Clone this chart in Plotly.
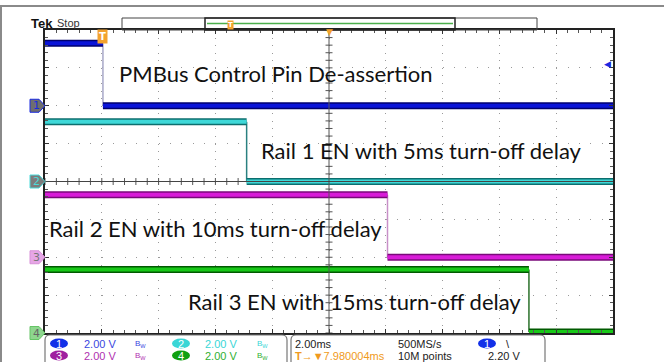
import numpy as np
import plotly.graph_objects as go

# scope settings
channels = ["1", "2", "3", "4"]
volts_per_div = [2.0, 2.0, 2.0, 2.0]
offset_div = [2, 0, -2, -4]          # ground marker position of each channel
high_v = [3.3, 3.15, 3.3, 3.35]      # logic high level
low_v = [0.0, 0.0, 0.0, 0.05]
fall_ms = [2.04, 7.1, 12.06, 17.04]  # time of falling edge (trigger + delay)
trig_level_v = 2.2

labels = [
    "PMBus Control Pin De-assertion",
    "Rail 1 EN with 5ms turn-off delay",
    "Rail 2 EN with 10ms turn-off delay",
    "Rail 3 EN with 15ms turn-off delay",
]
label_x_ms = [2.55, 7.55, 0.08, 4.95]
label_y_div = [2.84, 0.83, -1.24, -3.18]

colors = ["#0a14d8", "#3ed8d8", "#d81cd8", "#18c818"]
dark_colors = ["#00006e", "#0c6e6e", "#7a0a7a", "#005a00"]
edge_colors = ["#a8a8c8", "#2a8080", "#c890c8", "#2a702a"]

W, H = 664, 362
L, R, T, B = 45, 613, 30, 333


def fx(px):
    return (px - L) / (R - L)


def fy(py):
    return (B - py) / (B - T)


def note(x, y, text, size, color, family="Liberation Sans", xanchor="center", **kw):
    return dict(x=fx(x), y=fy(y), xref="paper", yref="paper", text=text, showarrow=False,
                xanchor=xanchor, yanchor="middle", font=dict(family=family, size=size, color=color), **kw)


fig = go.Figure()

# centre graticule ticks
fig.add_trace(go.Scatter(x=np.arange(0, 20.01, 0.4), y=np.zeros(51), mode="markers",
                         marker=dict(symbol="line-ns", size=5, line=dict(width=1, color="#555")),
                         hoverinfo="skip"))
fig.add_trace(go.Scatter(x=np.full(41, 10.0), y=np.arange(-4, 4.01, 0.2), mode="markers",
                         marker=dict(symbol="line-ew", size=5, line=dict(width=1, color="#555")),
                         hoverinfo="skip"))

for i, ch in enumerate(channels):
    hi = offset_div[i] + high_v[i] / volts_per_div[i]
    lo = offset_div[i] + low_v[i] / volts_per_div[i]
    t = fall_ms[i]
    # thin falling edge
    fig.add_trace(go.Scatter(x=[t, t], y=[hi, lo], mode="lines",
                             line=dict(color=edge_colors[i], width=1.5), hoverinfo="skip"))
    xs = [0, t, None, t, 20]
    ys = [hi, hi, None, lo, lo]
    fig.add_trace(go.Scatter(x=xs, y=ys, mode="lines",
                             line=dict(color=dark_colors[i], width=7), hoverinfo="skip"))
    fig.add_trace(go.Scatter(x=xs, y=ys, mode="lines",
                             line=dict(color=colors[i], width=4), hoverinfo="skip"))

annotations = []
for txt, x, y in zip(labels, label_x_ms, label_y_div):
    annotations.append(dict(x=x, y=y, xref="x", yref="y", text=txt, showarrow=False,
                            xanchor="left", yanchor="middle",
                            font=dict(family="Lato", size=22, color="#111")))

shapes = []
# outer slide border
shapes.append(dict(type="line", xref="paper", yref="paper", x0=fx(0), x1=fx(W), y0=fy(6), y1=fy(6),
                   line=dict(color="#8a8a8a", width=2)))
shapes.append(dict(type="line", xref="paper", yref="paper", x0=fx(1), x1=fx(1), y0=fy(6), y1=fy(H),
                   line=dict(color="#8a8a8a", width=2)))
# centre cross lines
shapes.append(dict(type="line", xref="x", yref="paper", x0=10, x1=10, y0=0, y1=1,
                   line=dict(color="#555", width=1)))
shapes.append(dict(type="line", xref="paper", yref="y", x0=0, x1=1, y0=0, y1=0,
                   line=dict(color="#444", width=1)))

# channel ground markers
mark_fill = ["#6e6e6e", "#7c7c7c", "#e6a6e6", "#8ed68e"]
mark_line = ["#1a2ae0", "#4adada", "#d890d8", "#66c466"]
mark_text = ["#1a2ae0", "#4adada", "#777", "#666"]
for i, ch in enumerate(channels):
    yc = (offset_div[i] + 4) / 8
    h = 6.5 / (B - T)
    x0, x1, x2 = fx(30), fx(39), fx(45)
    shapes.append(dict(type="path", xref="paper", yref="paper",
                       path=f"M{x0},{yc - h} L{x1},{yc - h} L{x2},{yc} L{x1},{yc + h} L{x0},{yc + h} Z",
                       fillcolor=mark_fill[i], line=dict(color=mark_line[i], width=1)))
    annotations.append(dict(x=fx(36), y=yc, xref="paper", yref="paper", text=ch, showarrow=False,
                            xanchor="center", yanchor="middle",
                            font=dict(family="DejaVu Sans", size=11, color=mark_text[i])))

# trigger marker and level
annotations.append(dict(x=fall_ms[0], y=fy(37), xref="x", yref="paper", text="<b>T</b>", showarrow=False,
                        xanchor="center", yanchor="middle",
                        bgcolor="#f3a22e", borderpad=1, font=dict(family="DejaVu Sans", size=10, color="white")))
annotations.append(dict(x=1, y=offset_div[0] + trig_level_v / volts_per_div[0], xref="paper", yref="y",
                        text="◀", showarrow=False, xanchor="right", yanchor="middle",
                        font=dict(family="DejaVu Sans", size=9, color="#1a2ae0")))
annotations.append(dict(x=10, y=fy(32), xref="x", yref="paper", text="▼", showarrow=False,
                        xanchor="center", yanchor="middle",
                        font=dict(family="DejaVu Sans", size=9, color="#f3a22e")))

# top bar
annotations.append(note(29, 23, "<b>Tek</b>", 13, "#111", "Liberation Sans", "left"))
annotations.append(note(55, 23, "Stop", 11, "#333", "Liberation Sans", "left"))
shapes.append(dict(type="rect", xref="paper", yref="paper", x0=fx(122), x1=fx(537), y0=fy(30), y1=fy(18),
                   line=dict(color="#444", width=1)))
shapes.append(dict(type="rect", xref="paper", yref="paper", x0=fx(205), x1=fx(455), y0=fy(30), y1=fy(18),
                   line=dict(color="#222", width=1.5)))
shapes.append(dict(type="line", xref="paper", yref="paper", x0=fx(207), x1=fx(453), y0=fy(23.5), y1=fy(23.5),
                   line=dict(color="#4cb04c", width=1.5)))
annotations.append(note(230, 25.5, "<b>T</b>", 7, "white", "DejaVu Sans", bgcolor="#f3a22e", borderpad=0))

# bottom info boxes
r = 5
for a, b in [(45, 287), (291, 545)]:
    path = (f"M{fx(a)},{fy(366)} L{fx(a)},{fy(335 + r)} Q{fx(a)},{fy(335)} {fx(a + r)},{fy(335)} "
            f"L{fx(b - r)},{fy(335)} Q{fx(b)},{fy(335)} {fx(b)},{fy(335 + r)} L{fx(b)},{fy(366)}")
    shapes.append(dict(type="path", xref="paper", yref="paper", path=path, line=dict(color="#777", width=1.2)))

badges = [(59, 343.5, "1", "#1230e8"), (181, 343.5, "2", "#3ad6d6"),
          (59, 355.5, "3", "#a020a0"), (181, 355.5, "4", "#10a010"), (487, 343.5, "1", "#1230e8")]
for bx, by, txt, c in badges:
    shapes.append(dict(type="circle", xref="paper", yref="paper", x0=fx(bx - 9), x1=fx(bx + 9),
                       y0=fy(by + 5), y1=fy(by - 5), fillcolor=c, line=dict(width=0)))
    annotations.append(note(bx, by, txt, 11, "white"))

info = [
    (82, 343.5, "2.00 V", "#3a46e0"), (203, 343.5, "2.00 V", "#3ad6d6"),
    (82, 355.5, "2.00 V", "#b030b0"), (203, 355.5, "2.00 V", "#30b030"),
    (293, 343.5, "2.00ms", "#222"), (396, 343.5, "500MS/s", "#222"),
    (396, 355.5, "10M points", "#222"), (486, 355.5, "2.20 V", "#222"),
    (293, 355.5, "<b>T</b>→▼7.980004ms", "#f09a20"),
]
for ix, iy, txt, c in info:
    annotations.append(note(ix, iy, txt, 11, c, xanchor="left"))
for ix, iy, c in [(140, 343.5, "#3a46e0"), (262, 343.5, "#3ad6d6"), (140, 355.5, "#b030b0"), (262, 355.5, "#30b030")]:
    annotations.append(note(ix, iy, "B<sub>W</sub>", 8, c))
annotations.append(note(508, 343.5, "\\", 11, "#222"))

fig.update_layout(
    width=W,
    height=H,
    margin=dict(l=L, r=W - R, t=T, b=H - B),
    plot_bgcolor="white",
    paper_bgcolor="white",
    showlegend=False,
    annotations=annotations,
    shapes=shapes,
)
fig.update_xaxes(range=[0, 20], dtick=2, showticklabels=False, showgrid=True, gridcolor="#9a9a9a",
                 griddash="1px,6.575px", gridwidth=1, zeroline=False,
                 showline=True, linecolor="#222", linewidth=1.5, mirror="allticks",
                 ticks="inside", ticklen=4, tickcolor="#333",
                 minor=dict(dtick=0.4, ticks="inside", ticklen=3, tickcolor="#555", showgrid=False))
fig.update_yaxes(range=[-4, 4], dtick=1, showticklabels=False, showgrid=True, gridcolor="#9a9a9a",
                 griddash="1px,10.36px", gridwidth=1, zeroline=False,
                 showline=True, linecolor="#222", linewidth=1.5, mirror="allticks",
                 ticks="inside", ticklen=4, tickcolor="#333",
                 minor=dict(dtick=0.2, ticks="inside", ticklen=3, tickcolor="#555", showgrid=False))

fig.write_html("out.html", config={"displayModeBar": False},
               post_script="document.body.style.margin='0px';")
